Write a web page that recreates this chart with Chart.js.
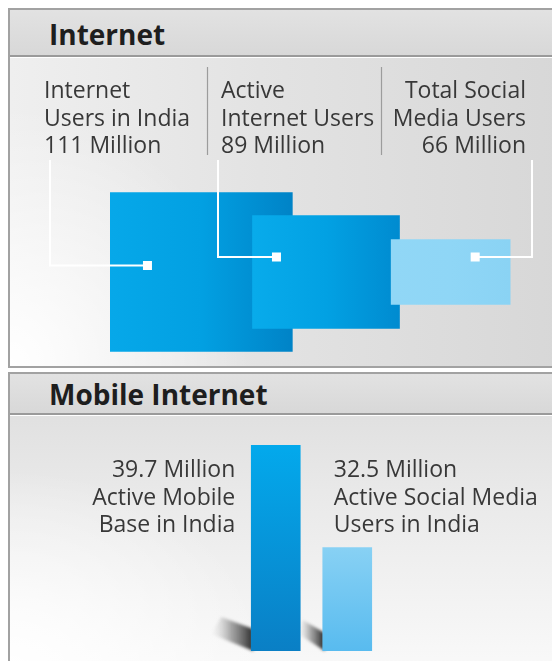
<!DOCTYPE html>
<html>
<head>
<meta charset="utf-8">
<script src="https://cdn.jsdelivr.net/npm/chart.js@4.4.0/dist/chart.umd.min.js"></script>
<style>
  html, body { margin: 0; padding: 0; }
  body {
    width: 552px; height: 661px; position: relative; overflow: hidden;
    background: #fff; font-family: 'Open Sans', sans-serif;
  }
  .panel {
    position: absolute; left: 8px; width: 560px;
    border: 2px solid #a2a2a2; box-sizing: border-box; overflow: hidden;
  }
  #internet-panel {
    top: 8px; height: 360px;
    background:
      radial-gradient(ellipse 240px 260px at 0% 100%, #ffffff 0%, rgba(255,255,255,0) 100%),
      linear-gradient(to right, #efefef 0%, #e3e3e3 45%, #d7d7d7 100%);
  }
  #mobile-panel {
    top: 372px; height: 300px;
    background:
      radial-gradient(ellipse 260px 200px at 0% 100%, #ffffff 0%, rgba(255,255,255,0) 100%),
      linear-gradient(to bottom, #dcdcdc 0%, #e9e9e9 40%, #f9f9f9 100%);
  }
  .title-bar {
    position: absolute; left: 0; top: 0; right: 0;
    background: linear-gradient(to bottom, #e2e2e2, #d8d8d8);
    border-bottom: 2px solid #9a9a9a;
    box-shadow: 0 1px 0 #ffffff;
  }
  #internet-panel .title-bar { height: 45px; }
  #mobile-panel .title-bar { height: 39px; }
  .title {
    position: absolute; left: 39px; margin: 0;
    font: bold 28px/28px 'Open Sans', sans-serif; color: #1e1e1e;
  }
  #internet-panel .title { top: 10px; }
  #mobile-panel .title { top: 6px; }
  canvas { position: absolute; left: 0; }
  #internetChart { top: 57px; }
  #mobileChart { top: 416px; }
</style>
</head>
<body>
<div class="panel" id="internet-panel">
  <div class="title-bar"><h2 class="title">Internet</h2></div>
</div>
<div class="panel" id="mobile-panel">
  <div class="title-bar"><h2 class="title">Mobile Internet</h2></div>
</div>
<canvas id="internetChart" width="552" height="310"></canvas>
<canvas id="mobileChart" width="552" height="245"></canvas>

<script>
// Internet users, millions
const internetCategories = [
  ['Internet', 'Users in India'],
  ['Active', 'Internet Users'],
  ['Total Social', 'Media Users']
];
const internetUsers = [111, 89, 66];
const internetMid = 35; // boxes grow up and down from this value

// Mobile internet, millions
const mobileCategories = [
  ['Active Mobile', 'Base in India'],
  ['Active Social Media', 'Users in India']
];
const mobileUsers = [39.7, 32.5];
const mobileAxisMin = 25.2;
const mobileAxisMax = 41;

// look of the internet boxes
const boxWidths = [182, 147, 119];
const boxColors = [
  ['#06a8e9', '#02a0e2', '#0083c7'],
  ['#08abeb', '#02a1e3', '#008bd0'],
  ['#91d7f6', '#8fd6f6', '#8ad3f4']
];
const labelX = [44, 221, 526];
const labelAlign = ['left', 'left', 'right'];
const separatorX = [207, 381];
const connectorX = [50, 218, 532];
const markerSpots = [
  { fx: 0.204, dy: -6.5 },
  { fx: 0.163, dy: -15 },
  { fx: 0.706, dy: -15 }
];

const labelFont = '23px "Open Sans", sans-serif';
const labelColor = '#383838';
const lineGap = 27.5;

function boxGradient(chart, i) {
  const xs = chart.scales.x;
  const cx = xs ? xs.getPixelForValue(i) : NaN;
  if (!isFinite(cx)) return boxColors[i][1];
  const w = boxWidths[i];
  const g = chart.ctx.createLinearGradient(cx - w / 2, 0, cx + w / 2, 0);
  g.addColorStop(0, boxColors[i][0]);
  g.addColorStop(0.5, boxColors[i][1]);
  g.addColorStop(1, boxColors[i][2]);
  return g;
}

// labels, separators and white connector lines for the internet boxes
const internetCallouts = {
  id: 'internetCallouts',
  afterDatasetsDraw(chart) {
    const ctx = chart.ctx;
    ctx.save();

    ctx.strokeStyle = '#9c9c9c';
    ctx.lineWidth = 1.2;
    separatorX.forEach(x => {
      ctx.beginPath();
      ctx.moveTo(x + 0.5, 10);
      ctx.lineTo(x + 0.5, 98);
      ctx.stroke();
    });

    ctx.font = labelFont;
    ctx.fillStyle = labelColor;
    ctx.textBaseline = 'alphabetic';
    internetUsers.forEach((v, i) => {
      const lines = [...internetCategories[i], v + ' Million'];
      ctx.textAlign = labelAlign[i];
      lines.forEach((t, k) => ctx.fillText(t, labelX[i], 41 + k * lineGap));
    });

    internetUsers.forEach((v, i) => {
      const bar = chart.getDatasetMeta(i).data[i];
      const left = bar.x - bar.width / 2;
      const mx = left + markerSpots[i].fx * bar.width;
      const my = (bar.y + bar.base) / 2 + markerSpots[i].dy;
      ctx.strokeStyle = '#ffffff';
      ctx.lineWidth = 2;
      ctx.beginPath();
      ctx.moveTo(connectorX[i], 103);
      ctx.lineTo(connectorX[i], my);
      ctx.lineTo(mx, my);
      ctx.stroke();
      ctx.fillStyle = '#ffffff';
      ctx.fillRect(mx - 4.5, my - 4.5, 9, 9);
    });
    ctx.restore();
  }
};

new Chart(document.getElementById('internetChart'), {
  type: 'bar',
  data: {
    labels: internetCategories,
    datasets: internetUsers.map((v, i) => ({
      label: internetCategories[i].join(' '),
      data: internetUsers.map((u, j) => (j === i ? [2 * internetMid - u, u] : null)),
      barThickness: boxWidths[i],
      order: internetUsers.length - i,
      clip: false,
      backgroundColor: ctx => boxGradient(ctx.chart, i),
      borderWidth: 0
    }))
  },
  options: {
    responsive: false,
    animation: false,
    events: [],
    layout: { padding: { left: 139, right: 39, top: 121, bottom: 1 } },
    datasets: { bar: { grouped: false } },
    scales: {
      x: { type: 'category', display: false },
      y: { display: false, min: internetMid - 90, max: internetMid + 90 }
    },
    plugins: { legend: { display: false }, tooltip: { enabled: false } }
  },
  plugins: [internetCallouts]
});

// mobile bars
const mobileBarColors = [
  ['#03a9ec', '#0a7fc5'],
  ['#88d1f4', '#58bbef']
];
// shadow outline offsets from each bar's bottom-left corner
const shadowShapes = [
  [[0, -22], [0, 0], [-40, -17], [-30, -34]],
  [[0, -18], [0, 0], [-24, -17], [-20, -31]]
];

function barGradient(chart, i) {
  const ys = chart.scales.y;
  const top = ys ? ys.getPixelForValue(mobileUsers[i]) : NaN;
  const bottom = chart.chartArea ? chart.chartArea.bottom : NaN;
  if (!isFinite(top) || !isFinite(bottom)) return mobileBarColors[i][0];
  const g = chart.ctx.createLinearGradient(0, top, 0, bottom);
  g.addColorStop(0, mobileBarColors[i][0]);
  g.addColorStop(1, mobileBarColors[i][1]);
  return g;
}

const mobileCallouts = {
  id: 'mobileCallouts',
  afterDatasetsDraw(chart) {
    const ctx = chart.ctx;
    const bars = chart.getDatasetMeta(0).data;
    const area = chart.chartArea;
    ctx.save();

    // soft shadows, painted behind the bars
    ctx.globalCompositeOperation = 'destination-over';
    ctx.filter = 'blur(1.5px)';
    bars.forEach((bar, i) => {
      const x0 = bar.x - bar.width / 2;
      const yb = area.bottom;
      const pts = shadowShapes[i];
      const g = ctx.createLinearGradient(x0, 0, x0 + pts[2][0], 0);
      g.addColorStop(0, 'rgba(45,45,45,0.95)');
      g.addColorStop(0.5, 'rgba(110,110,110,0.6)');
      g.addColorStop(1, 'rgba(190,190,190,0)');
      ctx.fillStyle = g;
      ctx.beginPath();
      ctx.moveTo(x0 + 2 + pts[0][0], yb + pts[0][1]);
      ctx.lineTo(x0 + 2 + pts[1][0], yb + pts[1][1]);
      for (let k = 2; k < pts.length; k++) ctx.lineTo(x0 + pts[k][0], yb + pts[k][1]);
      ctx.closePath();
      ctx.fill();
    });
    ctx.filter = 'none';
    ctx.globalCompositeOperation = 'source-over';

    ctx.font = labelFont;
    ctx.fillStyle = labelColor;
    mobileUsers.forEach((v, i) => {
      const bar = bars[i];
      const lines = [v + ' Million', ...mobileCategories[i]];
      let x;
      if (i === 0) {
        ctx.textAlign = 'right';
        x = bar.x - bar.width / 2 - 16;
      } else {
        ctx.textAlign = 'left';
        x = bar.x - bar.width / 2 + 11;
      }
      lines.forEach((t, k) => ctx.fillText(t, x, 61 + k * lineGap));
    });
    ctx.restore();
  }
};

new Chart(document.getElementById('mobileChart'), {
  type: 'bar',
  data: {
    labels: mobileCategories,
    datasets: [{
      label: 'Million users',
      data: mobileUsers,
      barThickness: 49,
      backgroundColor: ctx => barGradient(ctx.chart, ctx.dataIndex),
      borderWidth: 0
    }]
  },
  options: {
    responsive: false,
    animation: false,
    events: [],
    layout: { padding: { left: 240, right: 169, top: 11, bottom: 10 } },
    scales: {
      x: { type: 'category', display: false },
      y: { display: false, min: mobileAxisMin, max: mobileAxisMax }
    },
    plugins: { legend: { display: false }, tooltip: { enabled: false } }
  },
  plugins: [mobileCallouts]
});
</script>
</body>
</html>
